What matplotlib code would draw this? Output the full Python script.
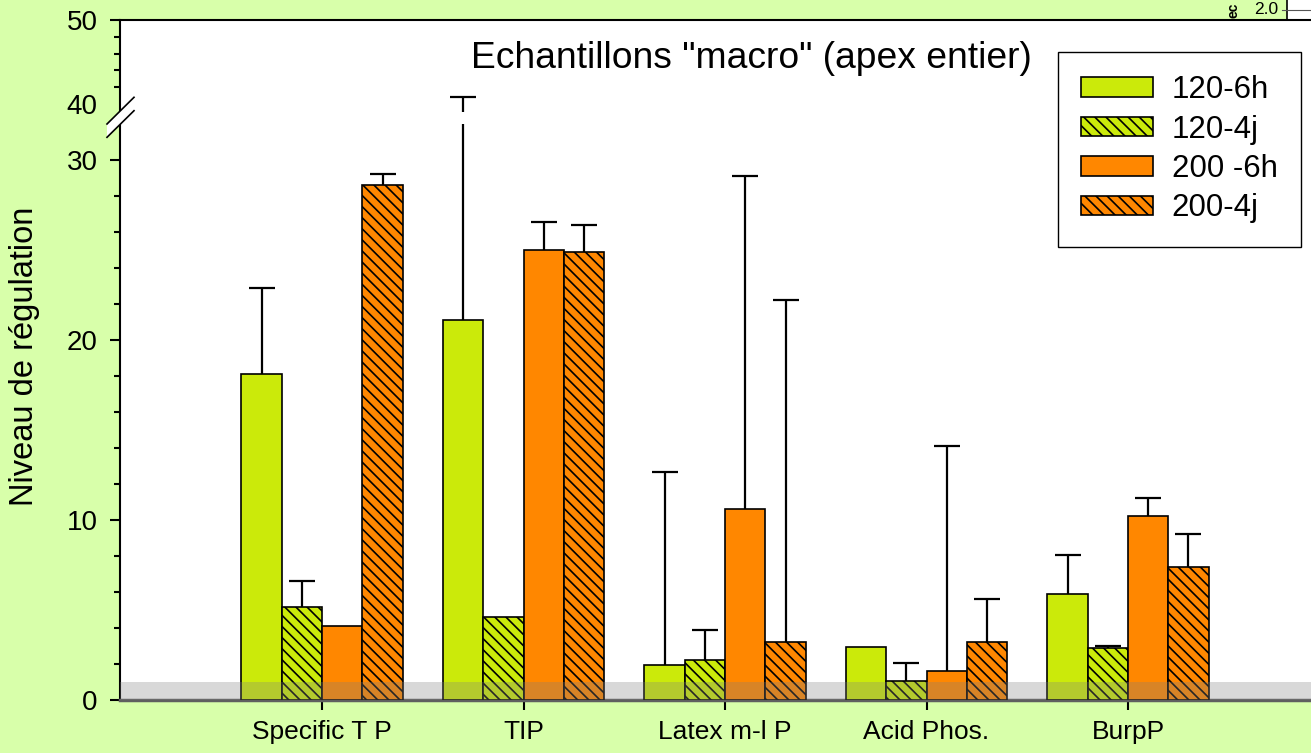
import numpy as np
import matplotlib
matplotlib.use("Agg")
import matplotlib.pyplot as plt
from matplotlib.patches import Rectangle, Polygon, Patch
from matplotlib.lines import Line2D

plt.rcParams['font.family'] = ['Liberation Sans', 'DejaVu Sans']
plt.rcParams['hatch.linewidth'] = 1.2

# ------------------------------------------------------------------
# Données
# ------------------------------------------------------------------
categories = ["Specific T P", "TIP", "Latex m-l P", "Acid Phos.", "BurpP"]
series = ["120-6h", "120-4j", "200 -6h", "200-4j"]

v_120_6h = [18.1, 21.1, 1.95, 2.95, 5.9]
v_120_4j = [5.15, 4.6, 2.25, 1.05, 2.9]
v_200_6h = [4.1, 25.0, 10.6, 1.6, 10.2]
v_200_4j = [28.6, 24.9, 3.2, 3.25, 7.4]

# erreurs (seulement vers le haut)
e_120_6h = [4.8, 19.7, 10.7, np.nan, 2.15]
e_120_4j = [1.45, np.nan, 1.65, 1.0, 0.1]
e_200_6h = [np.nan, 1.55, 18.5, 12.5, 1.0]
e_200_4j = [0.6, 1.5, 19.0, 2.35, 1.8]

valeurs = [v_120_6h, v_120_4j, v_200_6h, v_200_4j]
erreurs = [e_120_6h, e_120_4j, e_200_6h, e_200_4j]
couleurs = ['#cbea0a', '#cbea0a', '#ff8700', '#ff8700']
hachures = [None, '\\\\\\', None, '\\\\\\']

fond = '#d8ffaa'

# ------------------------------------------------------------------
# Figure : axe y coupé (0-32 en bas, 39-50 en haut)
# ------------------------------------------------------------------
W, H = 1311, 753
fig = plt.figure(figsize=(W / 100, H / 100), dpi=100, facecolor=fond)

def fx(px):
    return px / W

def fy(py):
    return 1 - py / H

x_left = fx(120)
larg = 1 - x_left

# fond blanc de la zone de tracé
ax_bg = fig.add_axes([x_left, fy(700), larg, fy(20) - fy(700)], zorder=0)
ax_bg.set_facecolor('white')
ax_bg.set_xticks([])
ax_bg.set_yticks([])
for s in ax_bg.spines.values():
    s.set_visible(False)

ax_lo = fig.add_axes([x_left, fy(700), larg, fy(124) - fy(700)], zorder=2)
ax_hi = fig.add_axes([x_left, fy(112.4), larg, fy(20) - fy(112.4)], zorder=2)
for ax in (ax_lo, ax_hi):
    ax.patch.set_visible(False)

x = np.arange(1, len(categories) + 1)
w = 0.2
offsets = [-1.5 * w, -0.5 * w, 0.5 * w, 1.5 * w]

for ax in (ax_lo, ax_hi):
    for vals, errs, col, hat, off in zip(valeurs, erreurs, couleurs, hachures, offsets):
        ax.bar(x + off, vals, w, color=col, edgecolor='black', linewidth=1.2,
               hatch=hat, zorder=3)
        errs = np.array(errs)
        _, caps, _ = ax.errorbar(x + off, vals, yerr=[np.zeros_like(errs), errs],
                                 fmt='none', ecolor='black', elinewidth=1.6,
                                 capsize=9.5, capthick=1.6, zorder=2)
        caps[0].set_visible(False)  # pas de trait au pied de la barre d'erreur
    ax.set_xlim(-0.003, 5.908)

# bande grise 0-1
ax_lo.axhspan(0, 1, color='#808080', alpha=0.3, lw=0, zorder=5)

ax_lo.set_ylim(0, 32)
ax_hi.set_ylim(39, 50)

ax_lo.set_yticks([0, 10, 20, 30])
ax_lo.set_yticks(np.arange(0, 32, 2), minor=True)
ax_hi.set_yticks([40, 50])
ax_hi.set_yticks(np.arange(40, 51, 2), minor=True)

for ax in (ax_lo, ax_hi):
    ax.tick_params(axis='y', which='major', direction='out', length=7.2, width=1.5,
                   labelsize=20, pad=9, colors='black')
    ax.tick_params(axis='y', which='minor', direction='out', length=4.3, width=1.5)
    ax.spines['right'].set_visible(False)
    ax.spines['left'].set_linewidth(1.5)

ax_hi.yaxis.get_major_ticks()[0].tick1line.set_visible(False)

ax_lo.spines['top'].set_visible(False)
ax_lo.spines['bottom'].set_color('#5f5f5f')
ax_lo.spines['bottom'].set_linewidth(2.5)
ax_lo.set_xticks(x)
ax_lo.set_xticklabels(categories)
ax_lo.tick_params(axis='x', direction='out', length=7.2, width=1.5, labelsize=19, pad=7)

ax_hi.spines['bottom'].set_visible(False)
ax_hi.spines['top'].set_linewidth(1.5)
ax_hi.set_xticks([])

# marques de coupure de l'axe
fig.patches.append(Polygon([(fx(107), fy(124)), (fx(134), fy(97.3)),
                            (fx(134), fy(110.7)), (fx(107), fy(137.3))],
                           closed=True, facecolor='white', edgecolor='none',
                           transform=fig.transFigure, zorder=6))
for y0, y1 in [(124, 97.3), (137.3, 110.7)]:
    fig.add_artist(Line2D([fx(107), fx(134)], [fy(y0), fy(y1)], color='black',
                          lw=1.2, transform=fig.transFigure, zorder=7))

# titre
fig.text(fx(751), fy(68), 'Echantillons "macro" (apex entier)', fontsize=26.8,
         ha='center', va='baseline', zorder=8)

# légende
handles = [Patch(facecolor=c, edgecolor='black', hatch=h, linewidth=1.2)
           for c, h in zip(couleurs, hachures)]
leg = fig.legend(handles, series, loc='upper right',
                 bbox_to_anchor=(fx(1301), fy(51.7)), bbox_transform=fig.transFigure,
                 fontsize=22.5, frameon=True, fancybox=False, edgecolor='black',
                 framealpha=1, borderpad=0.75, labelspacing=0.3,
                 handlelength=2.3, handleheight=0.58, handletextpad=0.6,
                 borderaxespad=0)
leg.get_frame().set_linewidth(1.0)
leg.set_zorder(10)

# titre de l'axe y
fig.text(fx(25), fy(356), 'Niveau de régulation', rotation=90, fontsize=23.5,
         ha='center', va='center')

# coin supérieur droit (graphique voisin)
fig.patches.append(Rectangle((fx(1287), fy(19)), 1 - fx(1287), fy(0) - fy(19),
                             facecolor='white', edgecolor='none',
                             transform=fig.transFigure, zorder=1))
fig.add_artist(Line2D([fx(1287), fx(1287)], [fy(19), 1], color='black', lw=1.2,
                      transform=fig.transFigure))
fig.add_artist(Line2D([fx(1282), 1], [fy(10), fy(10)], color='#555555', lw=0.8,
                      transform=fig.transFigure))
fig.text(fx(1278), fy(10), '2.0', fontsize=12.5, ha='right', va='center')
fig.text(fx(1233), fy(18), 'ec', fontsize=10, fontweight='bold', rotation=90,
         ha='center', va='bottom')

fig.savefig('out.png', dpi=100, facecolor=fond)
